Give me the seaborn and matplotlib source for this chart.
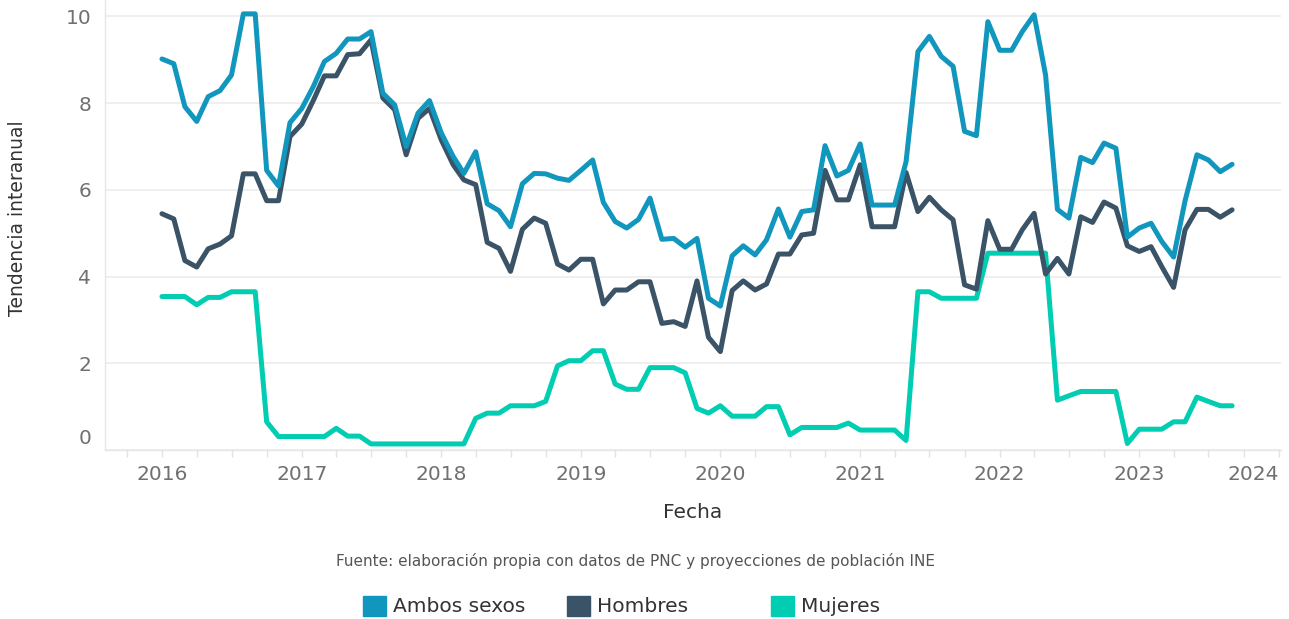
import numpy as np
import pandas as pd
import matplotlib.pyplot as plt
import matplotlib.dates as mdates
import matplotlib.transforms as mtransforms
from matplotlib.patches import Patch
import seaborn as sns

# datos mensuales (ene 2016 - sep 2023)
fechas = pd.date_range('2016-01-01', periods=93, freq='MS')

ambos = [9.02, 8.91, 7.92, 7.58, 8.15, 8.29, 8.65, 10.06, 10.06, 6.45, 6.09, 7.55,
         7.88, 8.40, 8.96, 9.15, 9.48, 9.48, 9.65, 8.23, 7.96, 7.00, 7.77, 8.06,
         7.31, 6.77, 6.38, 6.88, 5.68, 5.52, 5.15, 6.14, 6.38, 6.37, 6.27, 6.22,
         6.45, 6.69, 5.71, 5.27, 5.12, 5.32, 5.81, 4.86, 4.88, 4.68, 4.88, 3.50,
         3.32, 4.48, 4.71, 4.50, 4.85, 5.56, 4.91, 5.50, 5.54, 7.02, 6.32, 6.45,
         7.06, 5.65, 5.65, 5.65, 6.65, 9.19, 9.54, 9.08, 8.85, 7.35, 7.25, 9.88,
         9.22, 9.22, 9.65, 10.04, 8.65, 5.55, 5.35, 6.75, 6.63, 7.08, 6.96, 4.91,
         5.12, 5.23, 4.81, 4.45, 5.75, 6.81, 6.69, 6.42, 6.59]

hombres = [5.45, 5.33, 4.37, 4.22, 4.64, 4.75, 4.94, 6.37, 6.37, 5.75, 5.75, 7.23,
           7.52, 8.08, 8.63, 8.63, 9.12, 9.14, 9.46, 8.12, 7.85, 6.81, 7.65, 7.88,
           7.15, 6.58, 6.23, 6.12, 4.79, 4.65, 4.12, 5.09, 5.35, 5.23, 4.29, 4.15,
           4.40, 4.40, 3.37, 3.69, 3.69, 3.88, 3.88, 2.92, 2.96, 2.85, 3.90, 2.60,
           2.27, 3.68, 3.90, 3.69, 3.83, 4.52, 4.52, 4.96, 5.00, 6.45, 5.77, 5.77,
           6.58, 5.15, 5.15, 5.15, 6.40, 5.50, 5.83, 5.54, 5.31, 3.81, 3.71, 5.29,
           4.63, 4.63, 5.08, 5.46, 4.06, 4.42, 4.06, 5.38, 5.25, 5.72, 5.58, 4.71,
           4.58, 4.69, 4.23, 3.75, 5.08, 5.55, 5.55, 5.37, 5.54]

mujeres = [3.54, 3.54, 3.54, 3.35, 3.52, 3.52, 3.65, 3.65, 3.65, 0.65, 0.31, 0.31,
           0.31, 0.31, 0.31, 0.50, 0.32, 0.32, 0.14, 0.14, 0.14, 0.14, 0.14, 0.14,
           0.14, 0.14, 0.14, 0.73, 0.85, 0.85, 1.02, 1.02, 1.02, 1.12, 1.94, 2.06,
           2.06, 2.29, 2.29, 1.52, 1.40, 1.40, 1.90, 1.90, 1.90, 1.78, 0.96, 0.85,
           1.02, 0.78, 0.78, 0.78, 1.00, 1.00, 0.35, 0.52, 0.52, 0.52, 0.52, 0.62,
           0.46, 0.46, 0.46, 0.46, 0.22, 3.65, 3.65, 3.50, 3.50, 3.50, 3.50, 4.54,
           4.54, 4.54, 4.54, 4.54, 4.54, 1.15, 1.25, 1.35, 1.35, 1.35, 1.35, 0.15,
           0.48, 0.48, 0.48, 0.65, 0.65, 1.22, 1.12, 1.02, 1.02]

series = ['Ambos sexos', 'Hombres', 'Mujeres']
colores = {'Ambos sexos': '#1196BD', 'Hombres': '#3A5367', 'Mujeres': '#00CDB2'}

df = pd.DataFrame({'Fecha': fechas, 'Ambos sexos': ambos,
                   'Hombres': hombres, 'Mujeres': mujeres})
df_long = df.melt(id_vars='Fecha', var_name='serie', value_name='valor')

sns.set_theme(style='white')
plt.rcParams['font.family'] = ['DejaVu Sans']

W, H = 1289, 619
fig = plt.figure(figsize=(W / 100, H / 100), dpi=100)
ax = fig.add_axes([105 / W, 1 - 450 / H, 1176 / W, 450 / H])

sns.lineplot(data=df_long, x='Fecha', y='valor', hue='serie',
             hue_order=['Mujeres', 'Hombres', 'Ambos sexos'],
             palette=colores, linewidth=3.6, legend=False, ax=ax)

# ejes
ax.set_ylim(0, 10.38)
ax.set_yticks([0, 2, 4, 6, 8, 10])
ax.yaxis.grid(True, color='#ececec', linewidth=1.2)
ax.xaxis.grid(False)
ax.set_xlim(pd.Timestamp('2015-08-05'), pd.Timestamp('2024-01-07'))
ax.xaxis.set_major_locator(mdates.YearLocator())
ax.xaxis.set_major_formatter(mdates.DateFormatter('%Y'))
ax.xaxis.set_minor_locator(mdates.MonthLocator(bymonth=[1, 4, 7, 10]))
ax.tick_params(axis='x', which='both', bottom=True, length=5, width=1,
               color='#e3e3e3', labelsize=14.5, labelcolor='#707070', pad=6)
ax.tick_params(axis='y', length=0, labelsize=14.5, labelcolor='#707070', pad=10)
for s in ['top', 'right']:
    ax.spines[s].set_visible(False)
for s in ['left', 'bottom']:
    ax.spines[s].set_color('#e6e6e6')
    ax.spines[s].set_linewidth(1)
ax.set_xlabel('')
ax.set_ylabel('')

fig.canvas.draw()
xlabels = ax.get_xticklabels()
xlabels[-1].set_horizontalalignment('right')
ylabels = ax.get_yticklabels()
ylabels[0].set_transform(ylabels[0].get_transform() +
                         mtransforms.ScaledTranslation(0, 0.13, fig.dpi_scale_trans))

# textos
fig.text(18 / W, 1 - 218 / H, 'Tendencia interanual', rotation=90,
         ha='center', va='center', fontsize=13.5, color='#333333')
fig.text(693 / W, 1 - 513 / H, 'Fecha', ha='center', va='center',
         fontsize=14.5, color='#333333')
fig.text(635 / W, 1 - 561 / H,
         'Fuente: elaboración propia con datos de PNC y proyecciones de población INE',
         ha='center', va='center', fontsize=11.0, color='#555555')

# leyenda
for name, xp in zip(series, [363, 567, 771]):
    fig.legend(handles=[Patch(color=colores[name])], labels=[name],
               loc='center left', bbox_to_anchor=(xp / W, 1 - 606 / H),
               frameon=False, fontsize=14.5, handlelength=1.15, handleheight=1.15,
               handletextpad=0.35, borderpad=0, borderaxespad=0,
               labelcolor='#333333')

fig.savefig('out.png', dpi=100)
